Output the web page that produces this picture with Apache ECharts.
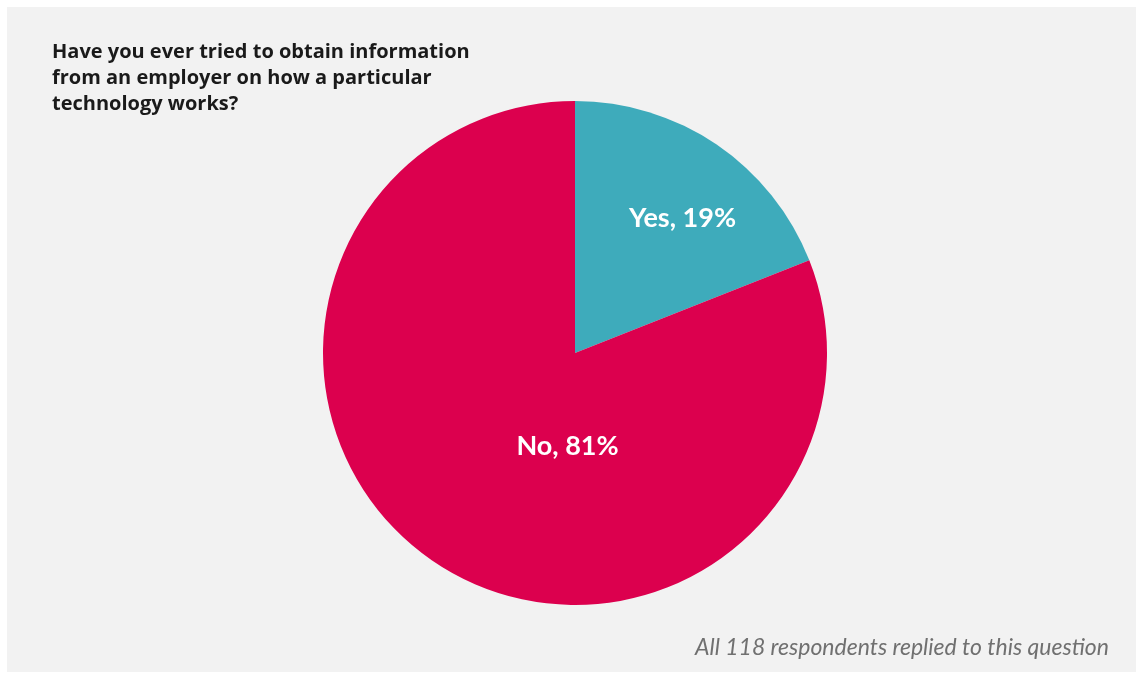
<!DOCTYPE html>
<html>
<head>
<meta charset="utf-8">
<script src="https://cdn.jsdelivr.net/npm/echarts@6/dist/echarts.min.js"></script>
<style>
  html, body { margin: 0; padding: 0; background: #ffffff; }
  #chart { position: absolute; left: 7px; top: 7px; width: 1129px; height: 665px; }
</style>
</head>
<body>
<div id="chart"></div>
<script>
// Survey answers and their shares (percent of respondents)
const categories = ['Yes', 'No'];
const shares = [19, 81];
const sliceColors = ['#3eabbb', '#dc004e'];
// Per-slice nudges for the in-slice labels (px)
const labelNudge = [[35, -28], [65, -13]];

const titleText = 'Have you ever tried to obtain information\nfrom an employer on how a particular\ntechnology works?';
const noteText = 'All 118 respondents replied to this question';

const chart = echarts.init(document.getElementById('chart'), null, { renderer: 'canvas' });

chart.setOption({
  backgroundColor: '#f2f2f2',
  animation: false,
  title: [
    {
      text: titleText,
      left: 40,
      top: 27,
      textStyle: {
        fontFamily: 'Open Sans',
        fontWeight: 'bold',
        fontSize: 20,
        lineHeight: 26,
        color: '#1a1a1a'
      }
    },
    {
      text: noteText,
      right: 22,
      bottom: 8,
      textStyle: {
        fontFamily: 'Lato',
        fontStyle: 'italic',
        fontWeight: 'normal',
        fontSize: 23,
        color: '#707070'
      }
    }
  ],
  series: [
    {
      type: 'pie',
      center: [568, 346],
      radius: [0, 252],
      startAngle: 90,
      clockwise: true,
      avoidLabelOverlap: false,
      silent: true,
      itemStyle: { borderWidth: 0 },
      label: {
        show: true,
        position: 'inside',
        formatter: p => p.name + ', ' + p.value + '%',
        fontFamily: 'Lato',
        fontWeight: 'bold',
        fontSize: 27,
        color: '#ffffff'
      },
      labelLine: { show: false },
      labelLayout: p => ({ dx: labelNudge[p.dataIndex][0], dy: labelNudge[p.dataIndex][1] }),
      data: categories.map((c, i) => ({
        name: c,
        value: shares[i],
        itemStyle: { color: sliceColors[i] }
      }))
    }
  ]
});
</script>
</body>
</html>
